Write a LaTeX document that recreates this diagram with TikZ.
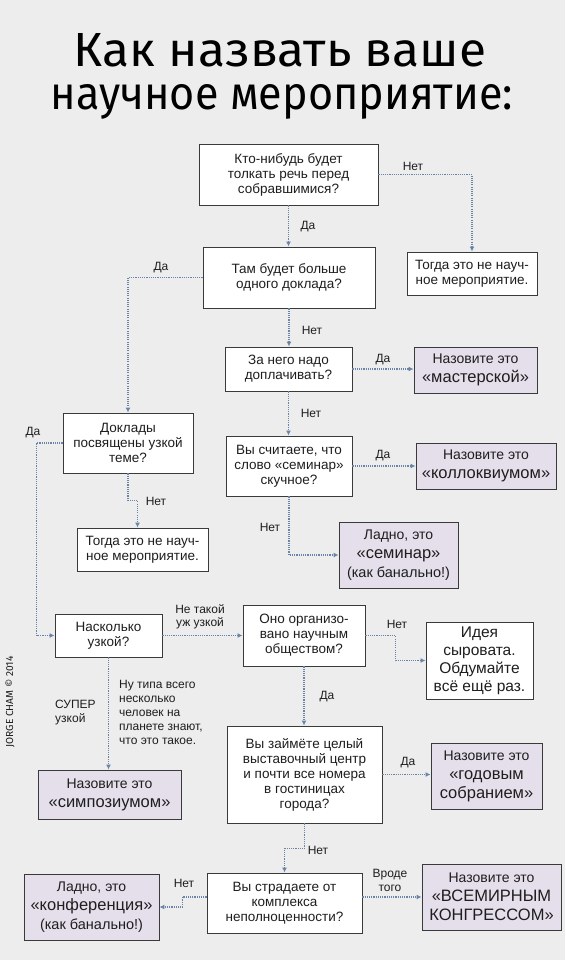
\documentclass[tikz,border=0pt]{standalone}
\usepackage{graphicx}
\usepackage{fontspec}
\setmainfont{Liberation Sans}
\newfontfamily\titlefont{Fira Sans}
\usetikzlibrary{arrows.meta}

\definecolor{paper}{HTML}{EDEDED}
\definecolor{lilac}{HTML}{E5DFEC}
\definecolor{wire}{HTML}{6A84A8}
\definecolor{frame}{HTML}{3A3A3A}
\definecolor{ink}{HTML}{1E1E1E}
\newcommand{\bigword}[1]{{\fontsize{16.5}{19}\selectfont #1}}
\newcommand{\banal}{{\fontsize{14.5}{19}\selectfont(как банально!)}}

\begin{document}
\begin{tikzpicture}[x=1pt, y=-1pt,
    sz/.style 2 args={minimum width=#1pt, minimum height=#2pt},
    qbox/.style={draw=frame, fill=white, line width=0.9pt, align=center, inner sep=0pt,
      text=ink, font=\fontsize{13.5}{15}\selectfont},
    namebox/.style={qbox, fill=lilac, font=\fontsize{14}{19}\selectfont},
    lbl/.style={inner sep=0pt, text=ink, align=center, font=\fontsize{12}{14}\selectfont},
    flow/.style={draw=wire, line width=1.1pt, dash pattern=on 1.1pt off 1.1pt,
      -{Latex[length=5pt,width=5pt]}}]
  \useasboundingbox (0,0) rectangle (565,960);
  \fill[paper] (0,0) rectangle (565,960);

  \node[anchor=base, inner sep=0pt] (title1) at (280,67) {\resizebox{412pt}{33pt}{\titlefont Как назвать ваше}};
  \node[anchor=base, inner sep=0pt] (title2) at (282,110) {\resizebox{462pt}{25pt}{\titlefont научное мероприятие:}};
  \node[rotate=90, inner sep=0pt, text=ink] (credit) at (10,702) {\resizebox{91pt}{!}{\titlefont JORGE CHAM © 2014}};

  \node[qbox, sz={179}{61}] (talk) at (288.5,174.5) {Кто-нибудь будет\\толкать речь перед\\собравшимися?};
  \node[qbox, sz={172}{61}] (many) at (289,277.5) {Там будет больше\\одного доклада?};
  \node[qbox, sz={130}{43}] (notsci) at (472,273.5) {Тогда это не науч-\\ное мероприятие.};
  \node[qbox, sz={127}{44}] (pay) at (288.5,369) {За него надо\\доплачивать?};
  \node[namebox, sz={123}{46}] (workshop) at (475.5,370) {Назовите это\\\bigword{«мастерской»}};
  \node[qbox, sz={126}{60}] (boring) at (289,466) {Вы считаете, что\\слово «семинар»\\скучное?};
  \node[namebox, sz={140}{46}] (colloq) at (486,466) {Назовите это\\\bigword{«коллоквиумом»}};
  \node[namebox, sz={119}{66}] (seminar) at (398.5,555) {Ладно, это\\\bigword{«семинар»}\\\banal};
  \node[qbox, sz={130}{60}] (narrow) at (128,443) {Доклады\\посвящены узкой\\теме?};
  \node[qbox, sz={131}{43}] (notsci2) at (142.5,549.5) {Тогда это не науч-\\ное мероприятие.};
  \node[qbox, sz={107}{43}] (howmuch) at (108.5,635.5) {Насколько\\узкой?};
  \node[qbox, sz={122}{61}] (society) at (304,635.5) {Оно организо-\\вано научным\\обществом?};
  \node[qbox, sz={107}{77}, font=\fontsize{15.5}{18}\selectfont] (raw) at (479.5,660.5) {Идея\\сыровата.\\Обдумайте\\всё ещё раз.};
  \node[qbox, sz={155}{97}] (expo) at (304.5,774.5) {Вы займёте целый\\выставочный центр\\и почти все номера\\в гостиницах\\города?};
  \node[namebox, sz={111}{66}] (annual) at (486.5,776) {Назовите это\\\bigword{«годовым}\\\bigword{собранием»}};
  \node[namebox, sz={143}{49}] (symp) at (109.5,794.5) {Назовите это\\\bigword{«симпозиумом»}};
  \node[qbox, sz={155}{60}] (complex) at (284.5,903) {Вы страдаете от\\комплекса\\неполноценности?};
  \node[namebox, sz={135}{66}] (conf) at (91.5,907) {Ладно, это\\\bigword{«конференция»}\\\banal};
  \node[namebox, sz={139}{66}] (world) at (491.5,897) {Назовите это\\\bigword{«ВСЕМИРНЫМ}\\\bigword{КОНГРЕССОМ»}};

  \draw[flow] (talk.east) -| (notsci.north);
  \draw[flow] (talk.south) -- (talk.south |- many.north);
  \draw[flow] (many.west) -| (narrow.north);
  \draw[flow] (many.south) -- (many.south |- pay.north);
  \draw[flow] (pay.east) -- (pay.east -| workshop.west);
  \draw[flow] (pay.south) -- (pay.south |- boring.north);
  \draw[flow] (boring.east) -- (boring.east -| colloq.west);
  \draw[flow] (boring.south) |- (seminar.west);
  \draw[flow] (narrow.west) -- ++(-26,0) |- (howmuch.west);
  \draw[flow] (narrow.south) -- ++(0,27) -| ([xshift=-5pt]notsci2.north);
  \draw[flow] (howmuch.east) -- (howmuch.east -| society.west);
  \draw[flow] (howmuch.south) -- (howmuch.south |- symp.north);
  \draw[flow] (society.east) -- ++(30,0) |- (raw.west);
  \draw[flow] (society.south) -- (society.south |- expo.north);
  \draw[flow] (expo.east) -- (expo.east -| annual.west);
  \draw[flow] (expo.south) -- ++(0,25) -| (complex.north);
  \draw[flow] ([yshift=6pt]complex.west) -- ++(-24,0) |- (conf.east);
  \draw[flow] (world.west -| complex.east) -- (world.west);

  \node[lbl] (no1) at (413,166) {Нет};
  \node[lbl] (yes1) at (308,227) {Да};
  \node[lbl] (yes2) at (161,268) {Да};
  \node[lbl] (no2) at (312,330) {Нет};
  \node[lbl] (yes3) at (383,360) {Да};
  \node[lbl] (no3) at (311,413) {Нет};
  \node[lbl] (yes4) at (383,456) {Да};
  \node[lbl] (no4) at (270,527) {Нет};
  \node[lbl] (yes5) at (33,433) {Да};
  \node[lbl] (no5) at (156,501) {Нет};
  \node[lbl, font=\fontsize{12}{13.5}\selectfont] (notso) at (200,617) {Не такой\\уж узкой};
  \node[lbl, anchor=west, align=left] (super) at (55,712.5) {СУПЕР\\узкой};
  \node[lbl, anchor=west, align=left, font=\fontsize{12}{14.2}\selectfont] (few) at (119,712.5) {Ну типа всего\\несколько\\человек на\\планете знают,\\что это такое.};
  \node[lbl] (no6) at (397,624) {Нет};
  \node[lbl] (yes6) at (327,697) {Да};
  \node[lbl] (yes7) at (408,763) {Да};
  \node[lbl] (no7) at (318,850) {Нет};
  \node[lbl] (no8) at (184,883) {Нет};
  \node[lbl] (kindof) at (390,880) {Вроде\\того};
\end{tikzpicture}
\end{document}
